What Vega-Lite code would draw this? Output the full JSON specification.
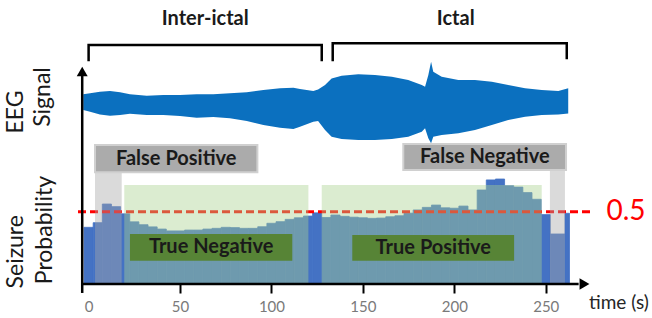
{
  "$schema": "https://vega.github.io/schema/vega-lite/v6.json",
  "width": 652,
  "height": 284,
  "autosize": {"type": "none"},
  "padding": {"left": 0, "top": 0, "right": 0, "bottom": 34},
  "background": "white",
  "config": {"view": {"stroke": null}, "font": "Lato"},
  "encoding": {
    "x": {"field": "x", "type": "quantitative",
      "scale": {"domain": [-48.46, 308.12], "nice": false, "zero": false},
      "axis": {"domain": false, "grid": false, "values": [0, 50, 100, 150, 200, 250], "title": null,
        "tickSize": 9, "tickWidth": 2, "tickColor": "black",
        "tickOpacity": {"condition": {"test": "datum.value === 0", "value": 0}, "value": 1},
        "labelFont": "Lato", "labelFontSize": 15, "labelColor": "#7a7a7a", "labelPadding": 6}},
    "y": {"field": "y", "type": "quantitative",
      "scale": {"domain": [0, 1.9641], "nice": false, "zero": false}, "axis": null}
  },
  "layer": [
    {
      "data": {"values": [
        {"x": -2.9, "y": 1.312, "y2": 1.203}, {"x": 0.8, "y": 1.319, "y2": 1.192},
        {"x": 6.2, "y": 1.330, "y2": 1.173}, {"x": 11.7, "y": 1.335, "y2": 1.164},
        {"x": 17.2, "y": 1.326, "y2": 1.169}, {"x": 22.6, "y": 1.312, "y2": 1.178},
        {"x": 31.8, "y": 1.302, "y2": 1.169}, {"x": 40.9, "y": 1.307, "y2": 1.169},
        {"x": 50, "y": 1.307, "y2": 1.162}, {"x": 59.1, "y": 1.312, "y2": 1.150},
        {"x": 68.2, "y": 1.312, "y2": 1.155}, {"x": 77.3, "y": 1.319, "y2": 1.146},
        {"x": 86.5, "y": 1.326, "y2": 1.127}, {"x": 95.6, "y": 1.342, "y2": 1.100},
        {"x": 104.7, "y": 1.353, "y2": 1.081}, {"x": 112, "y": 1.358, "y2": 1.072},
        {"x": 115.6, "y": 1.349, "y2": 1.088}, {"x": 122.9, "y": 1.335, "y2": 1.122},
        {"x": 125.5, "y": 1.345, "y2": 1.128}, {"x": 129.3, "y": 1.376, "y2": 1.065},
        {"x": 132.9, "y": 1.422, "y2": 1.019}, {"x": 138.4, "y": 1.441, "y2": 1.003},
        {"x": 147.5, "y": 1.450, "y2": 0.996}, {"x": 156.6, "y": 1.445, "y2": 0.996},
        {"x": 165.8, "y": 1.434, "y2": 1.003}, {"x": 174.8, "y": 1.411, "y2": 1.019},
        {"x": 182.2, "y": 1.376, "y2": 1.053}, {"x": 184, "y": 1.365, "y2": 1.077},
        {"x": 185.8, "y": 1.445, "y2": 1.008}, {"x": 187.3, "y": 1.537, "y2": 0.973},
        {"x": 188.5, "y": 1.468, "y2": 1.019}, {"x": 193.1, "y": 1.434, "y2": 1.030},
        {"x": 202.2, "y": 1.411, "y2": 1.042}, {"x": 211.3, "y": 1.411, "y2": 1.065},
        {"x": 220.5, "y": 1.399, "y2": 1.100}, {"x": 229.5, "y": 1.376, "y2": 1.134},
        {"x": 238.7, "y": 1.353, "y2": 1.157}, {"x": 247.8, "y": 1.342, "y2": 1.169},
        {"x": 256.9, "y": 1.335, "y2": 1.173}, {"x": 262.3, "y": 1.353, "y2": 1.180}
      ]},
      "mark": {"type": "area", "color": "#0b70bf", "opacity": 1},
      "encoding": {"y2": {"field": "y2"}}
    },
    {
      "data": {"values": [
        {"x": -2.5, "x2": 2.5, "y": 0.392}, {"x": 2.5, "x2": 7.5, "y": 0.424},
        {"x": 7.5, "x2": 12.5, "y": 0.553}, {"x": 12.5, "x2": 17.5, "y": 0.535},
        {"x": 17.5, "x2": 22.5, "y": 0.485}, {"x": 22.5, "x2": 27.5, "y": 0.43},
        {"x": 27.5, "x2": 32.5, "y": 0.41}, {"x": 32.5, "x2": 37.5, "y": 0.395},
        {"x": 37.5, "x2": 42.5, "y": 0.38}, {"x": 42.5, "x2": 47.5, "y": 0.367},
        {"x": 47.5, "x2": 52.5, "y": 0.367}, {"x": 52.5, "x2": 57.5, "y": 0.373},
        {"x": 57.5, "x2": 62.5, "y": 0.373}, {"x": 62.5, "x2": 67.5, "y": 0.38},
        {"x": 67.5, "x2": 72.5, "y": 0.385}, {"x": 72.5, "x2": 77.5, "y": 0.392},
        {"x": 77.5, "x2": 82.5, "y": 0.39}, {"x": 82.5, "x2": 87.5, "y": 0.385},
        {"x": 87.5, "x2": 92.5, "y": 0.385}, {"x": 92.5, "x2": 97.5, "y": 0.396},
        {"x": 97.5, "x2": 102.5, "y": 0.42}, {"x": 102.5, "x2": 107.5, "y": 0.431},
        {"x": 107.5, "x2": 112.5, "y": 0.447}, {"x": 112.5, "x2": 117.5, "y": 0.458},
        {"x": 117.5, "x2": 122.5, "y": 0.47}, {"x": 122.5, "x2": 127.5, "y": 0.492},
        {"x": 127.5, "x2": 132.5, "y": 0.46}, {"x": 132.5, "x2": 137.5, "y": 0.477},
        {"x": 137.5, "x2": 142.5, "y": 0.468}, {"x": 142.5, "x2": 147.5, "y": 0.462},
        {"x": 147.5, "x2": 152.5, "y": 0.458}, {"x": 152.5, "x2": 157.5, "y": 0.454},
        {"x": 157.5, "x2": 162.5, "y": 0.456}, {"x": 162.5, "x2": 167.5, "y": 0.465},
        {"x": 167.5, "x2": 172.5, "y": 0.472}, {"x": 172.5, "x2": 177.5, "y": 0.49},
        {"x": 177.5, "x2": 182.5, "y": 0.512}, {"x": 182.5, "x2": 187.5, "y": 0.53},
        {"x": 187.5, "x2": 192.5, "y": 0.546}, {"x": 192.5, "x2": 197.5, "y": 0.527},
        {"x": 197.5, "x2": 202.5, "y": 0.524}, {"x": 202.5, "x2": 207.5, "y": 0.539},
        {"x": 207.5, "x2": 212.5, "y": 0.512}, {"x": 212.5, "x2": 217.5, "y": 0.65},
        {"x": 217.5, "x2": 222.5, "y": 0.72}, {"x": 222.5, "x2": 227.5, "y": 0.726},
        {"x": 227.5, "x2": 232.5, "y": 0.68}, {"x": 232.5, "x2": 237.5, "y": 0.67},
        {"x": 237.5, "x2": 242.5, "y": 0.632}, {"x": 242.5, "x2": 247.5, "y": 0.586},
        {"x": 247.5, "x2": 252.5, "y": 0.48}, {"x": 252.5, "x2": 260.5, "y": 0.346},
        {"x": 260.5, "x2": 263, "y": 0.489}
      ]},
      "mark": {"type": "rect", "color": "#4472c4", "stroke": "#4472c4", "strokeWidth": 0.8},
      "encoding": {"x2": {"field": "x2"}, "y2": {"datum": 0}}
    },
    {
      "data": {"values": [{"x": -5.8, "x2": 275.1, "y": 0.5}]},
      "mark": {"type": "rule", "color": "#ff0000", "strokeWidth": 3, "strokeDash": [8, 4]},
      "encoding": {"x2": {"field": "x2"}}
    },
    {
      "data": {"values": [
        {"x": 19.5, "x2": 120.2, "y": 0, "y2": 0.685},
        {"x": 127.5, "x2": 247.8, "y": 0, "y2": 0.685}
      ]},
      "mark": {"type": "rect", "color": "#a9d18e", "opacity": 0.42},
      "encoding": {"x2": {"field": "x2"}, "y2": {"field": "y2"}}
    },
    {
      "data": {"values": [
        {"x": 3.5, "x2": 18.1, "y": 0, "y2": 0.772},
        {"x": 252.3, "x2": 260.5, "y": 0, "y2": 0.788}
      ]},
      "mark": {"type": "rect", "color": "#a6a6a6", "opacity": 0.42},
      "encoding": {"x2": {"field": "x2"}, "y2": {"field": "y2"}}
    },
    {
      "data": {"values": [
        {"x": 3.5, "x2": 92.3, "y": 0.772, "y2": 0.961},
        {"x": 172.1, "x2": 261.1, "y": 0.788, "y2": 0.968}
      ]},
      "mark": {"type": "rect", "fill": "#ababab", "stroke": "#d0d0d0", "strokeWidth": 2},
      "encoding": {"x2": {"field": "x2"}, "y2": {"field": "y2"}}
    },
    {
      "data": {"values": [
        {"x": 22.6, "x2": 111.4, "y": 0.161, "y2": 0.346},
        {"x": 144.2, "x2": 232.7, "y": 0.161, "y2": 0.339}
      ]},
      "mark": {"type": "rect", "fill": "#578436"},
      "encoding": {"x2": {"field": "x2"}, "y2": {"field": "y2"}}
    },
    {
      "data": {"values": [
        {"label": "False Positive", "x": 47.9, "y": 0.867},
        {"label": "False Negative", "x": 216.7, "y": 0.878},
        {"label": "True Negative", "x": 67, "y": 0.254},
        {"label": "True Positive", "x": 188.5, "y": 0.25},
        {"label": "Inter-ictal", "x": 63.8, "y": 1.833},
        {"label": "Ictal", "x": 200.8, "y": 1.834}
      ]},
      "mark": {"type": "text", "font": "Lato", "fontWeight": "bold", "fontSize": 20, "color": "#1a1a1a", "align": "center", "baseline": "middle"},
      "encoding": {"text": {"field": "label"}}
    },
    {
      "data": {"values": [
        {"g": "a", "o": 1, "x": 0, "y": 1.549}, {"g": "a", "o": 2, "x": 0, "y": 1.653},
        {"g": "a", "o": 3, "x": 127.5, "y": 1.653}, {"g": "a", "o": 4, "x": 127.5, "y": 1.549},
        {"g": "b", "o": 1, "x": 133.5, "y": 1.549}, {"g": "b", "o": 2, "x": 133.5, "y": 1.665},
        {"g": "b", "o": 3, "x": 261.5, "y": 1.665}, {"g": "b", "o": 4, "x": 261.5, "y": 1.563}
      ]},
      "mark": {"type": "line", "color": "black", "strokeWidth": 2.5, "strokeCap": "square"},
      "encoding": {"detail": {"field": "g"}, "order": {"field": "o", "type": "quantitative"}}
    },
    {
      "data": {"values": [{"x": -3.5, "x2": 268, "y": 0}]},
      "mark": {"type": "rule", "color": "black", "strokeWidth": 2.5},
      "encoding": {"x2": {"field": "x2"}}
    },
    {
      "data": {"values": [{"x": -3.5, "y": -0.062, "y2": 1.45}]},
      "mark": {"type": "rule", "color": "black", "strokeWidth": 2.5},
      "encoding": {"y2": {"field": "y2"}}
    },
    {
      "data": {"values": [{"x": 271.2, "y": 0}]},
      "mark": {"type": "point", "shape": "triangle-right", "size": 130, "filled": true, "color": "black", "opacity": 1}
    },
    {
      "data": {"values": [{"x": -3.5, "y": 1.47}]},
      "mark": {"type": "point", "shape": "triangle-up", "size": 120, "filled": true, "color": "black", "opacity": 1}
    },
    {
      "data": {"values": [
        {"label": "EEG", "x": -39.6, "y": 1.19},
        {"label": "Signal", "x": -25.2, "y": 1.293},
        {"label": "Seizure", "x": -39.6, "y": 0.223},
        {"label": "Probability", "x": -23.6, "y": 0.373}
      ]},
      "mark": {"type": "text", "font": "Lato", "fontSize": 23, "color": "#1a1a1a", "angle": 270, "align": "center", "baseline": "middle"},
      "encoding": {"text": {"field": "label"}}
    },
    {
      "data": {"values": [{"label": "0.5", "x": 293.9, "y": 0.5}]},
      "mark": {"type": "text", "font": "Lato", "fontSize": 28, "color": "#ff0000", "align": "center", "baseline": "middle"},
      "encoding": {"text": {"field": "label"}}
    },
    {
      "data": {"values": [{"label": "time (s)", "x": 290, "y": -0.13}]},
      "mark": {"type": "text", "font": "Lato", "fontSize": 19, "color": "#262626", "align": "center", "baseline": "middle"},
      "encoding": {"text": {"field": "label"}}
    }
  ]
}
